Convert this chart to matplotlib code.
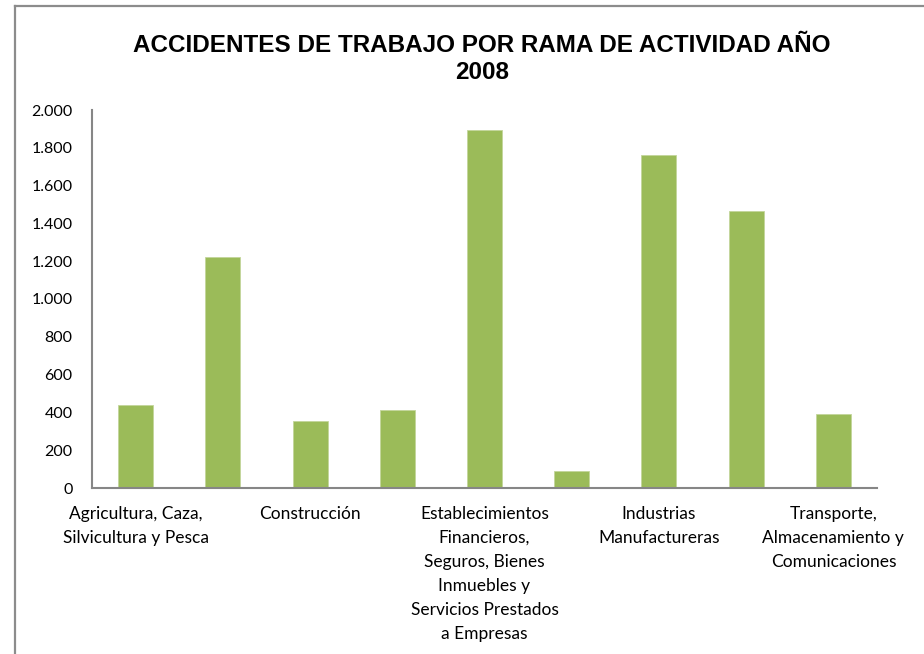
import numpy as np
import matplotlib.pyplot as plt
from matplotlib.lines import Line2D
from matplotlib.ticker import FuncFormatter

# Data
categories = [
    "Agricultura, Caza,\nSilvicultura y Pesca",
    "",
    "Construcción",
    "",
    "Establecimientos\nFinancieros,\nSeguros, Bienes\nInmuebles y\nServicios Prestados\na Empresas",
    "",
    "Industrias\nManufactureras",
    "",
    "Transporte,\nAlmacenamiento y\nComunicaciones",
]
accidents = [439, 1220, 353, 413, 1896, 90, 1760, 1466, 392]
y_ticks = [0, 200, 400, 600, 800, 1000, 1200, 1400, 1600, 1800, 2000]

W, H = 924, 654
fig = plt.figure(figsize=(W / 100, H / 100), dpi=100)
fig.patch.set_facecolor("white")

# outer chart frame (only top and left edges are visible)
fig.add_artist(Line2D([15 / W, 15 / W], [0, 1 - 6 / H], color="#8c8c8c", lw=1.6))
fig.add_artist(Line2D([15 / W, 1], [1 - 6 / H, 1 - 6 / H], color="#8c8c8c", lw=1.6))

ax = fig.add_axes([92 / W, (H - 488) / H, (877 - 92) / W, (488 - 110) / H])
x = np.arange(len(accidents))
ax.bar(x, accidents, width=0.4, color="#9BBB59", edgecolor="#c3d69b", linewidth=0.6)

ax.set_xlim(-0.5, len(accidents) - 0.5)
ax.set_ylim(0, 2000)
ax.set_yticks(y_ticks)
ax.yaxis.set_major_formatter(FuncFormatter(lambda v, p: f"{int(v):,}".replace(",", ".")))
ax.set_xticks(x)
ax.set_xticklabels(categories, fontsize=12.5, family="Lato", linespacing=1.62)
for lab in ax.get_yticklabels():
    lab.set_fontsize(11.5)
    lab.set_family("Lato")
ax.tick_params(axis="x", length=0, pad=13)
ax.tick_params(axis="y", length=0, pad=14)

for side in ["top", "right"]:
    ax.spines[side].set_visible(False)
for side in ["left", "bottom"]:
    ax.spines[side].set_color("#868686")
    ax.spines[side].set_linewidth(1.5)

fig.text(482 / W, 1 - 59 / H, "ACCIDENTES DE TRABAJO POR RAMA DE ACTIVIDAD AÑO\n2008",
         ha="center", va="center", fontsize=17.5, fontweight="bold",
         family="Liberation Sans", linespacing=1.22)

fig.savefig("out.png", dpi=100)
